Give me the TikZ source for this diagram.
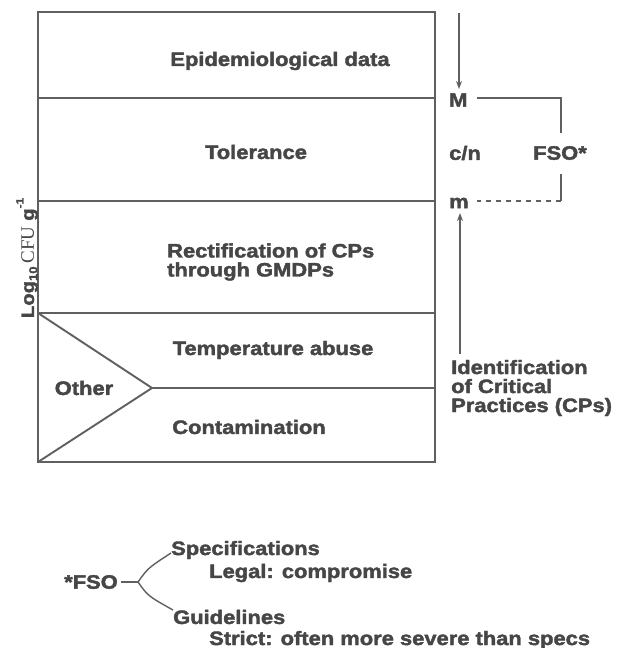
\documentclass[tikz,border=0pt]{standalone}
\usepackage{fontspec}
\setmainfont{Liberation Sans}
\newfontfamily\hv[FakeStretch=1.13, FakeBold=2]{Liberation Sans}
\newfontfamily\tms{Liberation Serif}
\usetikzlibrary{arrows.meta}
\definecolor{ink}{RGB}{70,70,70}
\definecolor{lncol}{RGB}{96,96,96}
\begin{document}
\begin{tikzpicture}[x=1pt,y=-1pt,
  txt/.style={font=\hv\bfseries\fontsize{19.4}{19}\selectfont, text=ink, inner sep=0pt},
  rule/.style={draw=lncol, line width=1.9pt},
  thin/.style={draw=lncol, line width=1.4pt},
  arr/.style={draw=lncol, line width=1.4pt, -{Stealth[length=8pt,width=6pt]}}
]
\useasboundingbox[fill=white] (0,0) rectangle (617,648);

% main box
\draw[rule] (38,12) rectangle (435,462);
\coordinate (l1) at (38,98);  \coordinate (r1) at (435,98);
\coordinate (l2) at (38,201); \coordinate (r2) at (435,201);
\coordinate (l3) at (38,313); \coordinate (r3) at (435,313);
\coordinate (apex) at (152,388); \coordinate (r4) at (435,388);
\coordinate (bl) at (38,462);
\draw[rule] (l1) -- (r1);
\draw[rule] (l2) -- (r2);
\draw[rule] (l3) -- (r3);
\draw[rule] (l3) -- (apex) -- (bl);
\draw[rule] (apex) -- (r4);

% texts in the box
\node[txt] (epi) at (280,61) {Epidemiological data};
\node[txt] (tol) at (256,152) {Tolerance};
\node[txt, align=left, anchor=west] (rect) at (167,262) {Rectification of CPs\\through GMDPs};
\node[txt] (temp) at (273,350) {Temperature abuse};
\node[txt] (other) at (84,388) {Other};
\node[txt] (cont) at (249,427) {Contamination};

% y-axis label
\node[rotate=90, text=ink, inner sep=0pt] (ylab) at (27,258)
  {\hv\bfseries\fontsize{18}{18}\selectfont Log\raisebox{-0.35ex}{\fontsize{11.5}{11.5}\selectfont 10}\,{\tms\mdseries\fontsize{19}{19}\selectfont CFU} g\raisebox{1.1ex}{\fontsize{10.5}{10.5}\selectfont -1}};

% right side
\node[txt, anchor=west] (M) at (449,100) {M};
\node[txt, anchor=west] (cn) at (449,153) {c/n};
\node[txt, anchor=west] (m) at (449,203) {m};
\node[txt] (fso) at (560,153) {FSO*};
\coordinate (top) at (459,13);
\coordinate (topend) at (459,89);
\coordinate (bot) at (460,354);
\coordinate (botend) at (460,213);
\draw[arr] (top) -- (topend);
\draw[arr] (bot) -- (botend);
\coordinate (c1) at (561,98);
\coordinate (c2) at (561,201);
\draw[thin] ([xshift=9pt]M.east |- c1) -- (c1) -- ([yshift=13pt]fso.north -| c1);
\draw[thin] ([yshift=-14pt]fso.south -| c2) -- (c2);
\draw[thin, dash pattern=on 5pt off 5pt] (c2) -- ([xshift=8pt]m.east |- c2);

\node[txt, align=left, anchor=west] (ident) at (451,388)
  {Identification\\of Critical\\Practices (CPs)};

% footnote
\node[txt, anchor=east] (fsonote) at (118,582) {*FSO};
\coordinate (fork) at (138,582);
\node[txt, anchor=west] (spec) at (171,550) {Specifications};
\node[txt, anchor=west] (legal) at (209,573) {Legal: compromise};
\node[txt, anchor=west] (guide) at (173,617) {Guidelines};
\node[txt, anchor=west] (strict) at (209,640) {Strict: often more severe than specs};
\draw[thin] ([xshift=3pt]fsonote.east) -- (fork);
\draw[thin] (fork) .. controls (148,568) .. ([yshift=-3pt]spec.west);
\draw[thin] (fork) .. controls (148,596) .. ([yshift=7pt]guide.west);
\end{tikzpicture}
\end{document}
